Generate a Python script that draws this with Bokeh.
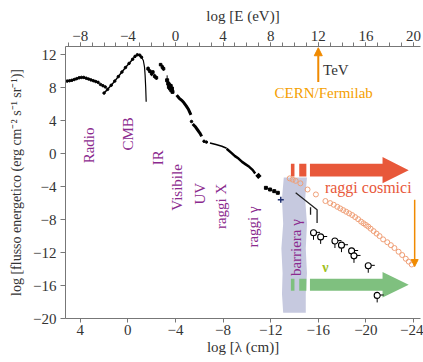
import numpy as np
from bokeh.plotting import figure
from bokeh.models import (Range1d, LinearAxis, FixedTicker, Arrow, NormalHead)
from bokeh.core.properties import value
from bokeh.embed import file_html
from bokeh.resources import INLINE

FONT = "'Liberation Serif', 'Times New Roman', serif"

# ---------------- data ----------------
# log E (eV) on x, log energy flux on y
radio_E = [-9.1, -8.9, -8.7, -8.5, -8.3, -8.1, -7.9, -7.7, -7.5, -7.3, -7.1, -6.9, -6.7, -6.5]
radio_f = [8.8, 8.85, 8.9, 9.0, 9.1, 9.2, 9.25, 9.25, 9.15, 9.05, 8.95, 8.85, 8.75, 8.65]
radio2_E = [-6.3, -6.1, -5.9]
radio2_f = [8.4, 8.25, 8.1]

cmb_E = [-6.0, -5.7, -5.4, -5.1, -4.8, -4.5, -4.2, -3.9, -3.6, -3.4, -3.2, -3.0, -2.85]
cmb_f = [7.35, 7.8, 8.3, 8.8, 9.35, 9.9, 10.45, 10.95, 11.45, 11.8, 12.0, 11.95, 11.7]
wien_E = [-2.85, -2.7, -2.6, -2.55, -2.5, -2.46]
wien_f = [11.7, 11.3, 10.5, 9.5, 8.0, 6.3]

ir_E = [-2.3, -2.15, -2.0, -1.9, -1.75, -1.6, -1.25, -1.1, -1.0]
ir_f = [10.3, 10.0, 9.7, 9.9, 9.4, 9.2, 10.8, 10.5, 10.3]
ir_err = [0.3, 0.25, 0.3, 0.2, 0.3, 0.25, 0.15, 0.3, 0.25]

opt_E = [-0.7, -0.6, -0.55, -0.5, -0.45, -0.4, -0.35, -0.3, -0.25]
opt_f = [8.9, 8.5, 8.1, 8.3, 7.9, 8.2, 7.7, 7.9, 7.5]
opt_err = [0.6, 0.3, 0.2, 0.3, 0.2, 0.25, 0.2, 0.2, 0.2]

uv_E = [0.1, 0.3, 0.5, 0.7, 0.9, 1.1, 1.3]
uv_f = [7.1, 6.75, 6.5, 6.2, 5.8, 5.35, 4.7]
xr1_E = [1.45, 1.65, 1.85, 2.05, 2.2]
xr1_f = [3.6, 3.3, 2.9, 2.5, 2.1]
xdot_E = [1.35, 2.4, 2.6]
xdot_f = [3.9, 1.5, 1.4]
xr2_E = [2.9, 3.4, 3.9, 4.3]
xr2_f = [1.3, 1.1, 0.9, 0.65]
xr3_E = [4.3, 4.7, 5.0, 5.3, 5.6, 5.9, 6.2, 6.5, 6.7]
xr3_f = [0.6, 0.1, -0.3, -0.6, -1.0, -1.3, -1.6, -2.0, -2.4]
blob_E = [6.85, 7.0, 7.1]
blob_f = [-2.5, -2.75, -2.9]
gdot_E = [7.6, 7.95, 8.3, 8.6]
gdot_f = [-4.15, -4.35, -4.55, -4.75]
blue_E = [8.85]
blue_f = [-5.6]

# upper-limit line near the gamma barrier
ul_E = [10.1, 11.9, 11.9]
ul_f = [-4.75, -6.8, -8.4]
ul2_E = [11.35, 11.35]
ul2_f = [-6.5, -7.4]

# cosmic rays
cr_E = [9.6, 9.85, 10.1, 10.5, 11.1, 11.8, 12.6, 13.0, 13.3, 13.6, 13.85, 14.1, 14.35, 14.6,
        14.85, 15.1, 15.35, 15.6, 15.8, 16.0, 16.2, 16.4, 16.65, 16.9, 17.15, 17.45, 17.8,
        18.1, 18.4, 18.75, 19.05, 19.35, 19.6, 19.85]
cr_f = [-3.0, -3.15, -3.3, -3.6, -4.35, -4.95, -5.75, -6.0, -6.2, -6.45, -6.65, -6.85, -7.05,
        -7.25, -7.45, -7.7, -7.95, -8.25, -8.45, -8.65, -8.85, -9.1, -9.4, -9.7, -10.0,
        -10.4, -10.75, -11.1, -11.45, -11.9, -12.3, -12.75, -13.1, -13.45]

# neutrino / UHE upper limits
lim_E = [11.6, 12.2, 13.4, 13.95, 14.8, 15.0, 16.2, 16.95]
lim_f = [-9.6, -10.1, -10.6, -11.1, -11.8, -12.4, -13.6, -17.2]

# ticks
top_ticks = [-8, -4, 0, 4, 8, 12, 16, 20]
bottom_ticks = [4, 0, -4, -8, -12, -16, -20, -24]
left_ticks = [-20, -16, -12, -8, -4, 0, 4, 8, 12]

# region labels (purple)
reg_text = ["Radio", "CMB", "IR", "Visibile", "UV", "raggi X", "raggi γ"]
reg_E = [-7.3, -3.95, -1.5, 0.17, 2.1, 3.8, 6.55]
reg_f = [1.0, 2.4, -0.5, -4.1, -4.85, -6.4, -8.9]

# barrier band outline
bar_f = [-2.9, -5.5, -8.5, -11.5, -14.5, -17.0, -19.3]
bar_left = [9.1, 8.95, 9.05, 8.9, 9.0, 8.95, 9.05]
bar_right = [11.05, 10.9, 11.05, 10.95, 11.05, 10.95, 10.95]

# big arrows: (body start, head base, tip, centre, body half height, head half height)
red_arrow = (11.3, 17.4, 19.6, -2.0, 0.78, 1.6)
green_arrow = (11.3, 17.4, 19.6, -15.9, 0.72, 1.55)
arrow_bars = [(9.7, 10.0), (10.4, 11.0)]

E0, E1 = -9.24, 20.59
Y0, Y1 = -20, 13.0

def unim(v):
    return ("−" + str(abs(v))) if v < 0 else str(v)

p = figure(width=423, height=362, output_backend="svg", toolbar_location=None,
           x_range=Range1d(E0, E1), y_range=Range1d(Y0, Y1),
           x_axis_location="above",
           min_border_left=65, min_border_right=3, min_border_top=46, min_border_bottom=44)
p.outline_line_color = None
p.grid.visible = False
p.background_fill_color = "white"

p.extra_x_ranges = {"lam": Range1d(-4 - E0, -4 - E1)}
bax = LinearAxis(x_range_name="lam")
p.add_layout(bax, "below")

tax = p.xaxis[0]
lax = p.yaxis[0]

tax.ticker = FixedTicker(ticks=top_ticks, minor_ticks=list(range(-9, 21)))
tax.major_label_overrides = {t: unim(t) for t in top_ticks}
tax.axis_label = "log [E (eV)]"
bax.ticker = FixedTicker(ticks=bottom_ticks, minor_ticks=[])
bax.major_label_overrides = {t: unim(t) for t in bottom_ticks}
bax.axis_label = "log [λ (cm)]"
lax.ticker = FixedTicker(ticks=left_ticks, minor_ticks=[])
lax.major_label_overrides = {t: unim(t) for t in left_ticks}
lax.axis_label = "log [flusso energetico (erg cm⁻² s⁻¹ sr⁻¹)]"

for ax in (tax, bax, lax):
    ax.axis_line_color = "#777777"
    ax.major_tick_line_color = "#777777"
    ax.minor_tick_line_color = "#777777"
    ax.major_label_text_font = FONT
    ax.axis_label_text_font = FONT
    ax.major_label_text_color = "#333333"
    ax.axis_label_text_color = "#333333"
    ax.axis_label_text_font_style = "normal"
    ax.major_label_text_font_size = "15px"
    ax.axis_label_text_font_size = "15px"
    ax.major_tick_in = 0
    ax.minor_tick_in = 0
    ax.major_tick_out = 4
    ax.minor_tick_out = 4
    ax.axis_label_standoff = 1
    ax.major_label_standoff = 2
tax.axis_label_standoff = 4
lax.major_tick_out = 5
lax.major_label_standoff = 4
lax.axis_label_standoff = 6
lax.axis_label_text_font_size = "14px"

# ---- barrier band ----
band_x = bar_left + bar_right[::-1]
band_y = bar_f + bar_f[::-1]
p.patch(band_x, band_y, fill_color="#c6c9df", line_color=None)

# ---- big arrows ----
def arrow_poly(a):
    x0, xh, xt, yc, b, h = a
    return ([x0, xh, xh, xt, xh, xh, x0],
            [yc + b, yc + b, yc + h, yc, yc - h, yc - b, yc - b])

for a, col in ((red_arrow, "#e8583a"), (green_arrow, "#7fc07f")):
    xs, ys = arrow_poly(a)
    p.patch(xs, ys, fill_color=col, line_color=None)
    p.quad(left=[l for l, r in arrow_bars], right=[r for l, r in arrow_bars],
           bottom=a[3] - a[4], top=a[3] + a[4], fill_color=col, line_color=None)

# ---- cosmic rays ----
p.scatter(cr_E, cr_f, marker="circle", size=5, fill_color=None,
          line_color="#f0a078", line_width=1)

# ---- black spectrum ----
p.scatter(radio_E, radio_f, size=2.5, color="black")
p.line(radio_E, radio_f, color="black", line_width=1.5)
p.scatter(radio2_E, radio2_f, size=2.5, color="black")
p.scatter(cmb_E, cmb_f, size=2.5, color="black")
p.line(cmb_E, cmb_f, color="black", line_width=1.5)
p.line(wien_E, wien_f, color="black", line_width=1.2)
p.segment(ir_E, [f - e for f, e in zip(ir_f, ir_err)], ir_E,
          [f + e for f, e in zip(ir_f, ir_err)], color="black", line_width=1)
p.scatter(ir_E, ir_f, size=2.5, marker="square", color="black")
p.segment(opt_E, [f - e for f, e in zip(opt_f, opt_err)], opt_E,
          [f + e for f, e in zip(opt_f, opt_err)], color="black", line_width=1)
p.scatter(opt_E, opt_f, size=3, marker="square", color="black")
p.line(uv_E, uv_f, color="black", line_width=3)
p.line(xr1_E, xr1_f, color="black", line_width=3)
p.scatter(xdot_E, xdot_f, size=2.5, color="black")
p.line(xr2_E, xr2_f, color="black", line_width=1.5)
p.line(xr3_E, xr3_f, color="black", line_width=2.5)
p.line(blob_E, blob_f, color="black", line_width=4.5)
p.scatter(gdot_E, gdot_f, size=3, marker="square", color="black")
p.scatter(blue_E, blue_f, size=6, marker="cross", line_color="#203070", line_width=1.5)

p.line(ul_E, ul_f, color="#222222", line_width=1.3)
p.line(ul2_E, ul2_f, color="#222222", line_width=1.3)

# ---- upper-limit markers ----
p.segment(lim_E, [f - 0.3 for f in lim_f], lim_E, [f - 0.85 for f in lim_f],
          color="black", line_width=1)
p.segment([e + 0.25 for e in lim_E], [f + 0.05 for f in lim_f],
          [e + 0.55 for e in lim_E], [f + 0.05 for f in lim_f], color="black", line_width=1)
p.scatter(lim_E, lim_f, marker="circle", size=6, fill_color="white",
          line_color="black", line_width=1.1)

# ---- orange arrows ----
p.add_layout(Arrow(x_start=12, y_start=8.7, x_end=12, y_end=12.85,
                   line_color="#f08a00", line_width=2,
                   end=NormalHead(size=8, fill_color="#f08a00", line_color="#f08a00")))
p.add_layout(Arrow(x_start=20.1, y_start=-5.6, x_end=20.1, y_end=-13.7,
                   line_color="#f08a00", line_width=1.5,
                   end=NormalHead(size=7, fill_color="#f08a00", line_color="#f08a00")))

# ---- texts ----
p.text(reg_E, reg_f, text=reg_text, angle=np.pi / 2, text_font=value(FONT),
       text_font_size="15px", text_color="#8b2a8e", text_align="center",
       text_baseline="middle")
p.text([10.1], [-11.4], text=["barriera γ"], angle=np.pi / 2, text_font=value(FONT),
       text_font_size="15px", text_color="#8b2a8e", text_align="center",
       text_baseline="middle")
p.text([12.4], [10.2], text=["TeV"], text_font=value(FONT), text_font_size="15px",
       text_color="#333333", text_align="left", text_baseline="middle")
p.text([12.45], [7.4], text=["CERN/Fermilab"], text_font=value(FONT),
       text_font_size="15px", text_color="#f5a000", text_align="center",
       text_baseline="middle")
p.text([16.2], [-4.05], text=["raggi cosmici"], text_font=value(FONT),
       text_font_size="16px", text_color="#e8583a", text_align="center",
       text_baseline="middle")
p.text([12.6], [-13.8], text=["ν"], text_font=value(FONT), text_font_size="14px",
       text_font_style="bold", text_color="#a0c020", text_align="center",
       text_baseline="middle")

open("out.html", "w").write(file_html(p, INLINE))
